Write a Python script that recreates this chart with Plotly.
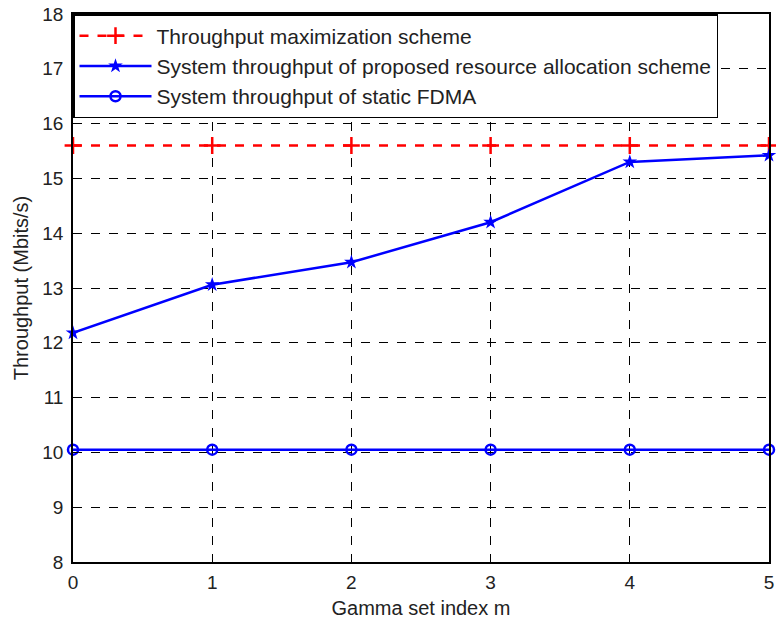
import plotly.graph_objects as go

x_vals = [0, 1, 2, 3, 4, 5]
max_scheme = [15.6, 15.6, 15.6, 15.6, 15.6, 15.6]
proposed = [12.18, 13.06, 13.47, 14.2, 15.3, 15.42]
static_fdma = [10.05, 10.05, 10.05, 10.05, 10.05, 10.05]

names = [
    "Throughput maximization scheme",
    "System throughput of proposed resource allocation scheme",
    "System throughput of static FDMA",
]
x_title = "Gamma set index m"
y_title = "Throughput (Mbits/s)"

FONT = "Liberation Sans, Arial"
TXT = "#222222"

fig = go.Figure()
fig.add_trace(go.Scatter(
    x=x_vals, y=max_scheme, name=names[0], mode="lines+markers",
    line=dict(color="#ff0000", width=2.5, dash="dash"),
    marker=dict(symbol="cross-thin", size=12, line=dict(color="#ff0000", width=2.5)),
    cliponaxis=False,
))
fig.add_trace(go.Scatter(
    x=x_vals, y=proposed, name=names[1], mode="lines+markers",
    line=dict(color="#0000ff", width=2.5),
    marker=dict(symbol="star", size=11, color="#0000ff"),
    cliponaxis=False,
))
fig.add_trace(go.Scatter(
    x=x_vals, y=static_fdma, name=names[2], mode="lines+markers",
    line=dict(color="#0000ff", width=2.5),
    marker=dict(symbol="circle-open", size=10, line=dict(color="#0000ff", width=2.5)),
    cliponaxis=False,
))

axis_common = dict(
    showline=True, linecolor="black", linewidth=1.5, mirror=True,
    showgrid=True, gridcolor="black", griddash="dash", gridwidth=1,
    ticks="inside", ticklen=5, tickcolor="black",
    zeroline=False, automargin=False, ticklabeloverflow="allow",
    tickfont=dict(family=FONT, size=19, color=TXT),
)

fig.update_layout(
    width=776, height=624,
    margin=dict(l=73, r=7, t=14, b=62),
    paper_bgcolor="white", plot_bgcolor="white",
    font=dict(family=FONT, size=19, color=TXT),
    xaxis=dict(range=[0, 5], dtick=1, ticklabelstandoff=2,
               title=dict(text=x_title, standoff=9, font=dict(size=20)), **axis_common),
    yaxis=dict(range=[8, 18], dtick=1, ticklabelstandoff=4,
               title=dict(text=y_title, standoff=8, font=dict(size=20)), **axis_common),
    legend=dict(
        x=0, y=1, xanchor="left", yanchor="top",
        bgcolor="white", bordercolor="black", borderwidth=1.5,
        font=dict(family=FONT, size=21, color=TXT),
        tracegroupgap=0, itemwidth=72,
    ),
    showlegend=True,
)

fig.write_html(
    "out.html",
    config={"displayModeBar": False},
    post_script="document.body.style.margin='0';document.body.style.overflow='hidden';",
)
